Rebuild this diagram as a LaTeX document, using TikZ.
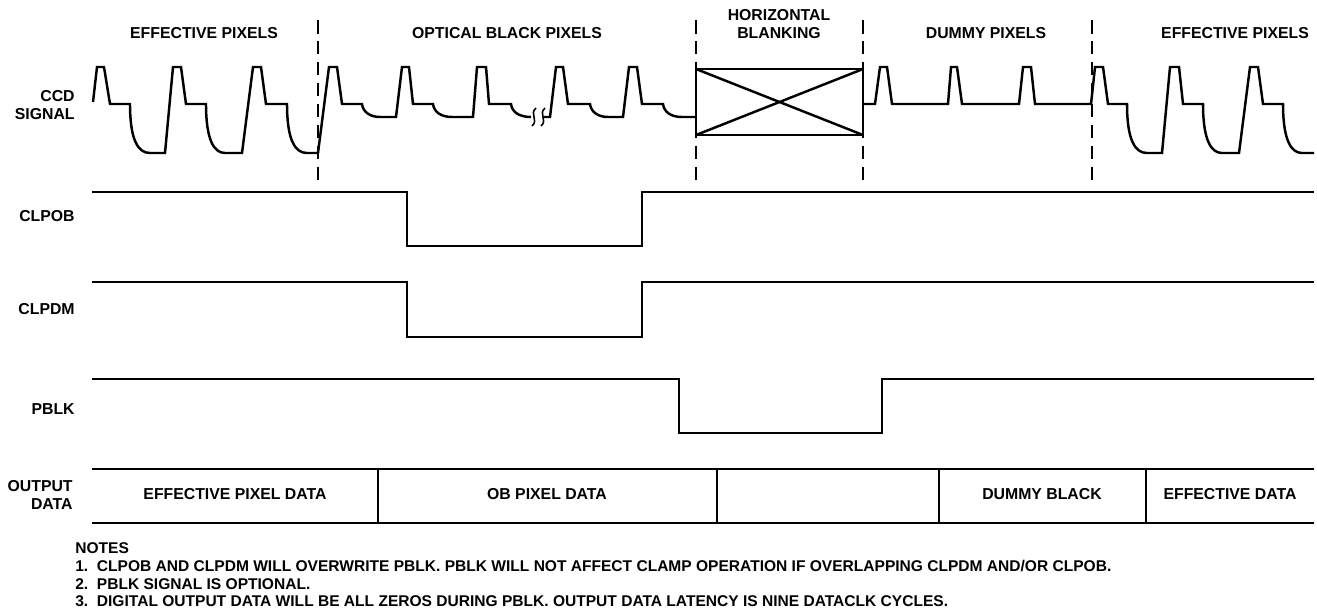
\documentclass[tikz,border=0pt]{standalone}
\usepackage{fontspec}
\setmainfont{Liberation Sans}

\begin{document}
\begin{tikzpicture}[x=0.02cm, y=-0.02cm, line join=miter,
    wave/.style={line width=1.4pt},
    sep/.style={line width=0.7pt, dash pattern=on 0.27cm off 0.15cm},
    lbl/.style={font=\bfseries\fontsize{9}{10.2}\selectfont, inner sep=0pt, align=center}]
    \useasboundingbox (0,0) rectangle (1317,613);

    \foreach \x in {318,696,863,1092}
        \draw[sep] (\x,20) -- (\x,185);

    \node[lbl] (effl) at (204,33) {EFFECTIVE PIXELS};
    \node[lbl] (obpix) at (507,33) {OPTICAL BLACK PIXELS};
    \node[lbl] (hblank) at (779,24) {HORIZONTAL\\BLANKING};
    \node[lbl] (dummy) at (986,33) {DUMMY PIXELS};
    \node[lbl] (effr) at (1235,33) {EFFECTIVE PIXELS};

    \node[lbl, anchor=east, align=right] (ccd) at (75,105) {CCD\\SIGNAL};
    \node[lbl, anchor=east] (clpob) at (75,216) {CLPOB};
    \node[lbl, anchor=east] (clpdm) at (75,309) {CLPDM};
    \node[lbl, anchor=east] (pblk) at (75,409) {PBLK};
    \node[lbl, anchor=east, align=right] (outdata) at (73,495) {OUTPUT\\DATA};

    % ccd signal
    \draw[wave] (93,102) -- (97,67) -- (104,67) -- (110,104) -- (130,104)
        .. controls (130,140) and (138,153) .. (150,153) -- (165,153)
        -- (173,67) -- (181,67) -- (186,104) -- (206,104)
        .. controls (206,140) and (214,153) .. (225,153) -- (242,153)
        -- (253,67) -- (261,67) -- (266,104) -- (287,104)
        .. controls (287,140) and (295,153) .. (307,153) -- (318,153)
        -- (329,67) -- (337,67) -- (342,104) -- (362,104)
        .. controls (363,112) and (370,117) .. (380,117) -- (396,117)
        -- (402,67) -- (409,67) -- (413,104) -- (433,104)
        .. controls (434,112) and (441,117) .. (452,117) -- (473,117)
        -- (477,67) -- (486,67) -- (489,104) -- (511,104)
        .. controls (512,112) and (519,117) .. (531,117);
    \draw[line width=0.9pt] (536,108) .. controls (529,114) and (539,120) .. (532,126);
    \draw[line width=0.9pt] (545,108) .. controls (538,114) and (548,120) .. (541,126);
    \draw[wave] (542,117) -- (550,117) -- (556,67) -- (563,67) -- (568,104) -- (590,104)
        .. controls (591,112) and (598,117) .. (608,117) -- (623,117)
        -- (629,67) -- (637,67) -- (642,104) -- (663,104)
        .. controls (664,112) and (671,117) .. (682,117) -- (696,117);
    \draw[wave] (696,69) rectangle (863,135);
    \draw[wave] (696,69) -- (863,135) (696,135) -- (863,69);
    \draw[wave] (863,104) -- (875,104) -- (880,67) -- (887,67) -- (892,104)
        -- (948,104) -- (951,67) -- (957,67) -- (962,104)
        -- (1019,104) -- (1023,67) -- (1031,67) -- (1035,104)
        -- (1091,104) -- (1095,67) -- (1103,67) -- (1108,104) -- (1127,104)
        .. controls (1127,140) and (1135,153) .. (1147,153) -- (1162,153)
        -- (1170,67) -- (1179,67) -- (1183,104) -- (1203,104)
        .. controls (1203,140) and (1211,153) .. (1222,153) -- (1239,153)
        -- (1250,67) -- (1258,67) -- (1263,104) -- (1283,104)
        .. controls (1283,140) and (1291,153) .. (1302,153) -- (1314,153);

    \draw[wave] (92,192) -- (407,192) -- (407,246) -- (642,246) -- (642,192) -- (1314,192);
    \draw[wave] (92,282) -- (407,282) -- (407,337) -- (642,337) -- (642,282) -- (1314,282);
    \draw[wave] (92,379) -- (679,379) -- (679,433) -- (882,433) -- (882,379) -- (1314,379);

    \draw[wave] (92,469) -- (1314,469) (92,523) -- (1314,523);
    \foreach \x in {378,717,939,1146}
        \draw[wave] (\x,469) -- (\x,523);
    \node[lbl] (effdata) at (235,494) {EFFECTIVE PIXEL DATA};
    \node[lbl] (obdata) at (547,494) {OB PIXEL DATA};
    \node[lbl] (dmdata) at (1042,494) {DUMMY BLACK};
    \node[lbl] (effrdata) at (1230,494) {EFFECTIVE DATA};

    \node[lbl, font=\bfseries\fontsize{8.85}{10.2}\selectfont, anchor=north west, align=left] (notes) at (75,542) {NOTES\\
        1.\ \ CLPOB AND CLPDM WILL OVERWRITE PBLK. PBLK WILL NOT AFFECT CLAMP OPERATION IF OVERLAPPING CLPDM AND/OR CLPOB.\\
        2.\ \ PBLK SIGNAL IS OPTIONAL.\\
        3.\ \ DIGITAL OUTPUT DATA WILL BE ALL ZEROS DURING PBLK. OUTPUT DATA LATENCY IS NINE DATACLK CYCLES.};
\end{tikzpicture}
\end{document}
